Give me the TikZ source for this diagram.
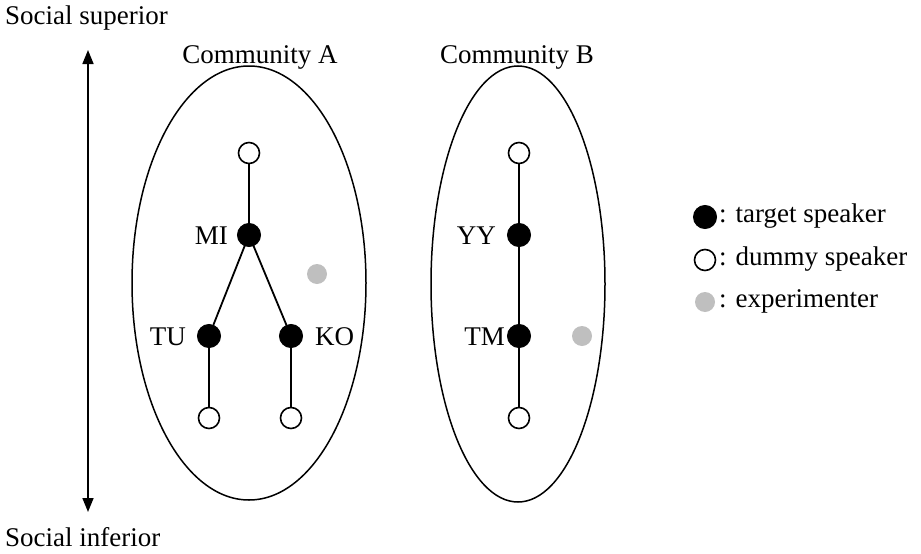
\documentclass[tikz,border=0pt]{standalone}
\usepackage{fontspec}
\setmainfont{Liberation Serif}
\usetikzlibrary{arrows.meta}
\begin{document}
\begin{tikzpicture}[x=1pt,y=-1pt,
  every node/.style={font=\fontsize{27}{32}\selectfont},
  target/.style={circle,fill=black,draw=black,line width=1pt,minimum size=23pt,inner sep=0pt},
  dummy/.style={circle,fill=white,draw=black,line width=1.6pt,minimum size=21pt,inner sep=0pt},
  experimenter/.style={circle,fill=black!25,minimum size=20pt,inner sep=0pt},
  link/.style={line width=1.8pt},
  community/.style={draw,line width=1.5pt},
  lbl/.style={inner sep=0pt,anchor=east}]
\useasboundingbox (0,0) rectangle (921,554);

% axis of social status
\node[anchor=west,inner sep=0pt] (sup) at (5,18) {Social superior};
\node[anchor=west,inner sep=0pt] (inf) at (5,537) {Social inferior};
\coordinate (axtop) at (88,50);
\coordinate (axbot) at (88,512);
\draw[line width=1.6pt,{Triangle[length=14pt,width=11pt]}-{Triangle[length=14pt,width=11pt]}] (axtop) -- (axbot);

% communities
\draw[community] (249,283) ellipse [x radius=117, y radius=217];
\draw[community] (518,284) ellipse [x radius=87, y radius=218];
\node (cA) at (260,57) {Community A};
\node (cB) at (517,57) {Community B};

% community A
\node[dummy] (a0) at (249,153) {};
\node[target] (mi) at (249,235) {};
\node[target] (tu) at (209,336) {};
\node[target] (ko) at (291,336) {};
\node[dummy] (a1) at (209,418) {};
\node[dummy] (a2) at (291,418) {};
\node[experimenter] (ea) at (317,274) {};
\draw[link] (a0) -- (mi);
\draw[link] (mi.center) -- (tu);
\draw[link] (mi.center) -- (ko);
\draw[link] (tu) -- (a1);
\draw[link] (ko) -- (a2);
\node[lbl] at (228,236) {MI};
\node[lbl] at (186,337) {TU};
\node[lbl,anchor=west] at (315,337) {KO};

% community B
\node[dummy] (b0) at (519,153) {};
\node[target] (yy) at (519,235) {};
\node[target] (tm) at (519,336) {};
\node[dummy] (b1) at (519,418) {};
\node[experimenter] (eb) at (582,336) {};
\draw[link] (b0) -- (yy);
\draw[link] (yy) -- (tm);
\draw[link] (tm) -- (b1);
\node[lbl] at (496,236) {YY};
\node[lbl] at (505,337) {TM};

% legend
\node[target] (k1) at (705,217) {};
\node[dummy] (k2) at (705,260) {};
\node[experimenter] (k3) at (705,302) {};
\node[anchor=west,inner sep=0pt] at (719,216) {: target speaker};
\node[anchor=west,inner sep=0pt] at (719,259) {: dummy speaker};
\node[anchor=west,inner sep=0pt] at (719,301) {: experimenter};
\end{tikzpicture}
\end{document}
